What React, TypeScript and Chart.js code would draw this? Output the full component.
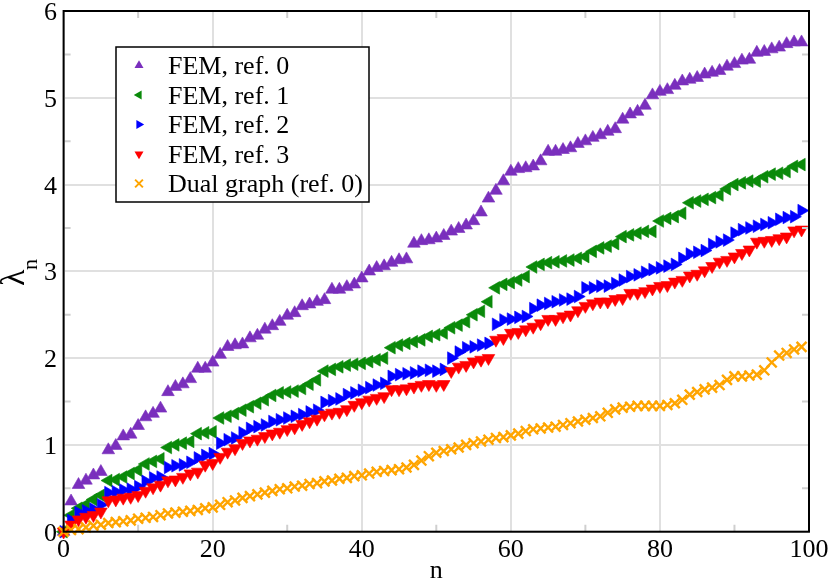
import { useEffect, useRef } from 'react';
import { Chart, registerables } from 'chart.js';

Chart.register(...registerables);

const FONT = "'Liberation Serif', 'Times New Roman', serif";

// eigenvalues lambda_n, n = 0..99
const ref0 = [
  0, 0.35, 0.54, 0.59, 0.65, 0.69, 0.94, 0.99, 1.1, 1.12,
  1.22, 1.32, 1.36, 1.42, 1.61, 1.67, 1.7, 1.76, 1.88, 1.88,
  1.95, 2.04, 2.13, 2.15, 2.16, 2.23, 2.26, 2.33, 2.37, 2.42,
  2.49, 2.52, 2.6, 2.62, 2.65, 2.67, 2.79, 2.79, 2.82, 2.85,
  2.92, 3.0, 3.04, 3.06, 3.1, 3.13, 3.14, 3.32, 3.35, 3.36,
  3.38, 3.41, 3.46, 3.49, 3.53, 3.58, 3.68, 3.84, 3.93, 4.04,
  4.15, 4.18, 4.19, 4.21, 4.27, 4.38, 4.38, 4.4, 4.42, 4.47,
  4.5, 4.54, 4.57, 4.61, 4.64, 4.75, 4.81, 4.84, 4.91, 5.03,
  5.07, 5.09, 5.14, 5.19, 5.21, 5.23, 5.27, 5.29, 5.31, 5.36,
  5.39, 5.43, 5.44, 5.52, 5.53, 5.56, 5.58, 5.62, 5.64, 5.64,
];

const ref1 = [
  0, 0.19, 0.27, 0.31, 0.37, 0.42, 0.59, 0.6, 0.63, 0.67,
  0.71, 0.78, 0.81, 0.84, 0.97, 1.0, 1.02, 1.04, 1.13, 1.14,
  1.15, 1.31, 1.33, 1.36, 1.4, 1.44, 1.48, 1.52, 1.57, 1.6,
  1.61, 1.62, 1.65, 1.7, 1.75, 1.85, 1.87, 1.9, 1.92, 1.93,
  1.94, 1.96, 1.98, 2.0, 2.12, 2.15, 2.17, 2.19, 2.21, 2.25,
  2.27, 2.29, 2.35, 2.38, 2.42, 2.5, 2.54, 2.65, 2.81, 2.85,
  2.87, 2.9, 2.94, 3.05, 3.08, 3.1, 3.11, 3.12, 3.13, 3.15,
  3.17, 3.23, 3.27, 3.29, 3.32, 3.4, 3.42, 3.44, 3.46, 3.46,
  3.58, 3.61, 3.63, 3.67, 3.79, 3.81, 3.83, 3.85, 3.88, 3.95,
  4.0, 4.02, 4.04, 4.04, 4.09, 4.12, 4.13, 4.15, 4.21, 4.23,
];

const ref2 = [
  0, 0.13, 0.22, 0.24, 0.26, 0.31, 0.45, 0.46, 0.48, 0.49,
  0.52, 0.58, 0.62, 0.63, 0.74, 0.76, 0.77, 0.8, 0.85, 0.88,
  0.9, 1.02, 1.06, 1.08, 1.14, 1.19, 1.21, 1.23, 1.27, 1.29,
  1.31, 1.33, 1.35, 1.38, 1.4, 1.49, 1.51, 1.53, 1.58, 1.6,
  1.63, 1.66, 1.69, 1.71, 1.79, 1.81, 1.82, 1.83, 1.85, 1.86,
  1.85, 1.87, 2.0, 2.07, 2.12, 2.13, 2.15, 2.17, 2.39, 2.44,
  2.45, 2.47, 2.48, 2.57, 2.61, 2.63, 2.65, 2.67, 2.68, 2.71,
  2.81, 2.81, 2.83, 2.83, 2.86, 2.9, 2.94, 2.96, 2.99, 3.02,
  3.04, 3.06, 3.08, 3.15, 3.2, 3.22, 3.24, 3.31, 3.34, 3.36,
  3.44, 3.48, 3.5, 3.52, 3.54, 3.56, 3.6, 3.62, 3.63, 3.7,
];

const ref3 = [
  0, 0.08, 0.14, 0.17, 0.19, 0.23, 0.36, 0.37, 0.39, 0.4,
  0.42, 0.47, 0.51, 0.54, 0.59, 0.6, 0.63, 0.67, 0.69, 0.77,
  0.79, 0.86, 0.92, 0.96, 1.02, 1.05, 1.07, 1.1, 1.13, 1.15,
  1.18, 1.2, 1.24, 1.27, 1.3, 1.35, 1.37, 1.38, 1.41, 1.46,
  1.49, 1.52, 1.54, 1.56, 1.64, 1.64, 1.65, 1.67, 1.69, 1.7,
  1.69, 1.7, 1.85, 1.9, 1.92, 1.96, 1.98, 2.0, 2.21, 2.23,
  2.29, 2.3, 2.33, 2.36, 2.4, 2.45, 2.45, 2.48, 2.5, 2.55,
  2.6, 2.63, 2.65, 2.65, 2.68, 2.69, 2.75, 2.75, 2.77, 2.8,
  2.83, 2.84, 2.88, 2.9, 2.95, 2.97, 3.01, 3.06, 3.11, 3.13,
  3.17, 3.21, 3.25, 3.34, 3.35, 3.36, 3.38, 3.4, 3.47, 3.48,
];

const dualGraph = [
  0, 0.02, 0.03, 0.05, 0.07, 0.08, 0.1, 0.11, 0.12, 0.13,
  0.15, 0.16, 0.17, 0.19, 0.21, 0.22, 0.23, 0.24, 0.25, 0.27,
  0.28, 0.31, 0.34, 0.36, 0.39, 0.41, 0.43, 0.45, 0.47, 0.49,
  0.5, 0.52, 0.53, 0.55, 0.56, 0.58, 0.59, 0.61, 0.62, 0.64,
  0.65, 0.67, 0.69, 0.7, 0.71, 0.72, 0.74, 0.77, 0.82, 0.87,
  0.91, 0.93, 0.95, 0.97, 1.0, 1.02, 1.04, 1.06, 1.08, 1.09,
  1.11, 1.13, 1.16, 1.18, 1.19, 1.2, 1.21, 1.23, 1.25, 1.27,
  1.29, 1.31, 1.33, 1.37, 1.41, 1.43, 1.44, 1.45, 1.45, 1.45,
  1.45, 1.46, 1.48, 1.52, 1.58, 1.61, 1.64, 1.66, 1.69, 1.75,
  1.79, 1.79, 1.8, 1.81, 1.86, 1.95, 2.03, 2.06, 2.1, 2.13,
];

const seriesLabels = ['FEM, ref. 0', 'FEM, ref. 1', 'FEM, ref. 2', 'FEM, ref. 3', 'Dual graph (ref. 0)'];
const seriesValues = [ref0, ref1, ref2, ref3, dualGraph];
const seriesColors = ['#7a2fbd', '#0a8a0a', '#0000ff', '#ff0000', '#ffa500'];
const seriesShapes = ['triangle', 'triangle', 'triangle', 'triangle', 'crossRot'];
const seriesRotation = [0, -90, 90, 180, 0];

const xMinorTicks = [10, 30, 50, 70, 90];
const yMinorTicks = [0.5, 1.5, 2.5, 3.5, 4.5, 5.5];

// small marker for the legend box
const drawMarker = (ctx: CanvasRenderingContext2D, shape: string, rot: number, x: number, y: number, r: number, color: string) => {
  ctx.save();
  ctx.translate(x, y);
  if (shape === 'crossRot') {
    ctx.strokeStyle = color;
    ctx.lineWidth = 2;
    const d = r * 0.75;
    ctx.beginPath();
    ctx.moveTo(-d, -d);
    ctx.lineTo(d, d);
    ctx.moveTo(-d, d);
    ctx.lineTo(d, -d);
    ctx.stroke();
  } else {
    ctx.rotate((rot * Math.PI) / 180);
    ctx.fillStyle = color;
    ctx.beginPath();
    for (let k = 0; k < 3; k++) {
      const a = (k * 2 * Math.PI) / 3;
      ctx.lineTo(Math.sin(a) * r, -Math.cos(a) * r);
    }
    ctx.closePath();
    ctx.fill();
  }
  ctx.restore();
};

const extrasPlugin = {
  id: 'extras',
  afterDraw(chart: any) {
    const { ctx, chartArea: a, scales } = chart;
    const xs = scales.x;
    const ys = scales.y;
    ctx.save();

    // minor ticks, inward on all four sides
    ctx.strokeStyle = '#cfcfcf';
    ctx.lineWidth = 2;
    ctx.beginPath();
    xMinorTicks.forEach((v) => {
      const px = xs.getPixelForValue(v);
      ctx.moveTo(px, a.bottom);
      ctx.lineTo(px, a.bottom - 7);
      ctx.moveTo(px, a.top);
      ctx.lineTo(px, a.top + 7);
    });
    yMinorTicks.forEach((v) => {
      const py = ys.getPixelForValue(v);
      ctx.moveTo(a.left, py);
      ctx.lineTo(a.left + 7, py);
      ctx.moveTo(a.right, py);
      ctx.lineTo(a.right - 7, py);
    });
    ctx.stroke();

    // frame
    ctx.strokeStyle = '#000';
    ctx.lineWidth = 2;
    ctx.strokeRect(a.left, a.top, a.right - a.left, a.bottom - a.top);

    // tick labels from the scales' own ticks
    ctx.fillStyle = '#000';
    ctx.font = `26px ${FONT}`;
    ctx.textBaseline = 'alphabetic';
    ctx.textAlign = 'center';
    xs.ticks.forEach((t: any) => {
      ctx.fillText(String(t.value), xs.getPixelForValue(t.value), a.bottom + 25.5);
    });
    ctx.textAlign = 'right';
    ys.ticks.forEach((t: any) => {
      ctx.fillText(String(t.value), a.left - 6.5, ys.getPixelForValue(t.value) + 9);
    });

    // legend box
    ctx.fillStyle = '#fff';
    ctx.fillRect(116, 47, 253, 155);
    ctx.strokeStyle = '#000';
    ctx.lineWidth = 1.5;
    ctx.strokeRect(116, 47, 253, 155);
    ctx.textAlign = 'left';
    seriesLabels.forEach((label, i) => {
      const rowY = 65.5 + i * 29.5;
      drawMarker(ctx, seriesShapes[i], seriesRotation[i], 139, rowY, 5.2, seriesColors[i]);
      ctx.fillStyle = '#000';
      ctx.fillText(label, 168, rowY + 8.5);
    });

    // axis titles
    ctx.fillStyle = '#000';
    ctx.textAlign = 'center';
    ctx.font = `26px ${FONT}`;
    ctx.fillText('n', (a.left + a.right) / 2, 578);

    ctx.translate(24, 286);
    ctx.rotate(-Math.PI / 2);
    ctx.textAlign = 'left';
    ctx.font = `34px ${FONT}`;
    ctx.fillText('λ', 0, 0);
    ctx.font = `22px ${FONT}`;
    ctx.fillText('n', 16, 13);
    ctx.restore();
  },
};

const EigenvalueChart = () => {
  const chartRef = useRef<HTMLCanvasElement>(null);

  useEffect(() => {
    const ctx = chartRef.current?.getContext('2d');
    if (!ctx) return;

    const chartInstance = new Chart(ctx, {
      type: 'scatter',
      data: {
        datasets: seriesValues.map((vals, i) => ({
          label: seriesLabels[i],
          data: vals.map((y, n) => ({ x: n, y })),
          showLine: false,
          pointStyle: seriesShapes[i],
          pointRotation: seriesRotation[i],
          pointRadius: i === 4 ? 7 : 7.3,
          pointBackgroundColor: seriesColors[i],
          pointBorderColor: seriesColors[i],
          pointBorderWidth: i === 4 ? 2.4 : 0.6,
          clip: false,
          order: 5 - i,
        })) as any,
      },
      options: {
        animation: false,
        responsive: true,
        maintainAspectRatio: false,
        events: [],
        layout: { padding: { top: 11, right: 21, left: 0, bottom: 0 } },
        plugins: { legend: { display: false }, tooltip: { enabled: false } },
        scales: {
          x: {
            type: 'linear',
            min: 0,
            max: 100,
            afterFit: (s: any) => {
              s.height = 50.3;
            },
            ticks: { stepSize: 20, display: false },
            grid: { color: '#e0e0e0', lineWidth: 2, drawTicks: false },
            border: { display: false },
          },
          y: {
            min: 0,
            max: 6,
            afterFit: (s: any) => {
              s.width = 63.6;
            },
            ticks: { stepSize: 1, display: false },
            grid: { color: '#e0e0e0', lineWidth: 2, drawTicks: false },
            border: { display: false },
          },
        },
      },
      plugins: [extrasPlugin],
    });

    return () => chartInstance.destroy();
  }, []);

  return (
    <div style={{ position: 'absolute', left: 0, top: 0, width: 830, height: 582, background: '#fff' }}>
      <canvas ref={chartRef} />
    </div>
  );
};

export default function App() {
  return <EigenvalueChart />;
}
